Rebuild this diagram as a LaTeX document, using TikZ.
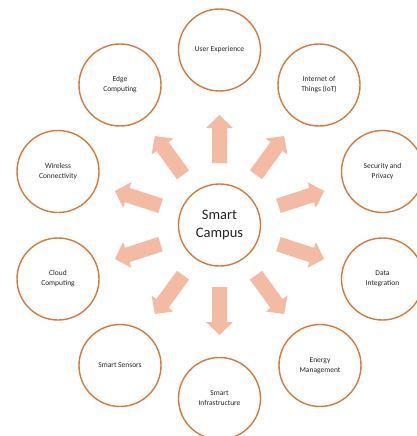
\documentclass[tikz,border=0pt]{standalone}
\usepackage{fontspec}
\setmainfont{Carlito}
\definecolor{ringorange}{RGB}{212,122,58}
\definecolor{arrowsalmon}{RGB}{243,186,164}
\definecolor{labeltext}{RGB}{40,40,40}
\begin{document}
\begin{tikzpicture}[x=1pt,y=1pt,
  topic/.style={circle,draw=ringorange,line width=1.4pt,fill=white,
    minimum size=82pt,inner sep=0pt,align=center,text=labeltext,
    font=\fontsize{7.5}{10}\selectfont},
  hub/.style={topic,font=\fontsize{14.5}{18}\selectfont,text=labeltext!90!black},
  blockarrow/.style={fill=arrowsalmon,draw=none}]
\useasboundingbox (0,0) rectangle (417,-436);
\fill[white] (0,0) rectangle (417,-436);

% hub in the middle
\node[hub] (campus) at (219.5,-225) {Smart\\Campus};

% block arrows pointing out from the hub
\foreach \ang in {90,54,18,-18,-54,-90,-126,-162,162,126}{
  \fill[blockarrow,shift={(campus.center)},rotate=\ang]
    (62,-7.5) -- (97,-7.5) -- (97,-13.5) -- (110,0) -- (97,13.5)
    -- (97,7.5) -- (62,7.5) -- cycle;
}

% surrounding topics
\node[topic] (ux)       at (219.5,-50)   {User Experience};
\node[topic] (iot)      at (319,-85)     {Internet of\\Things (IoT)};
\node[topic] (security) at (382.5,-171.5){Security and\\Privacy};
\node[topic] (data)     at (382.5,-279)  {Data\\Integration};
\node[topic] (energy)   at (320,-365.5)  {Energy\\Management};
\node[topic] (infra)    at (219.5,-398.5){Smart\\Infrastructure};
\node[topic] (sensors)  at (120,-365.5)  {Smart Sensors};
\node[topic] (cloud)    at (58,-279)     {Cloud\\Computing};
\node[topic] (wireless) at (58,-171.5)   {Wireless\\Connectivity};
\node[topic] (edge)     at (120,-85)     {Edge\\Computing};
\end{tikzpicture}
\end{document}
